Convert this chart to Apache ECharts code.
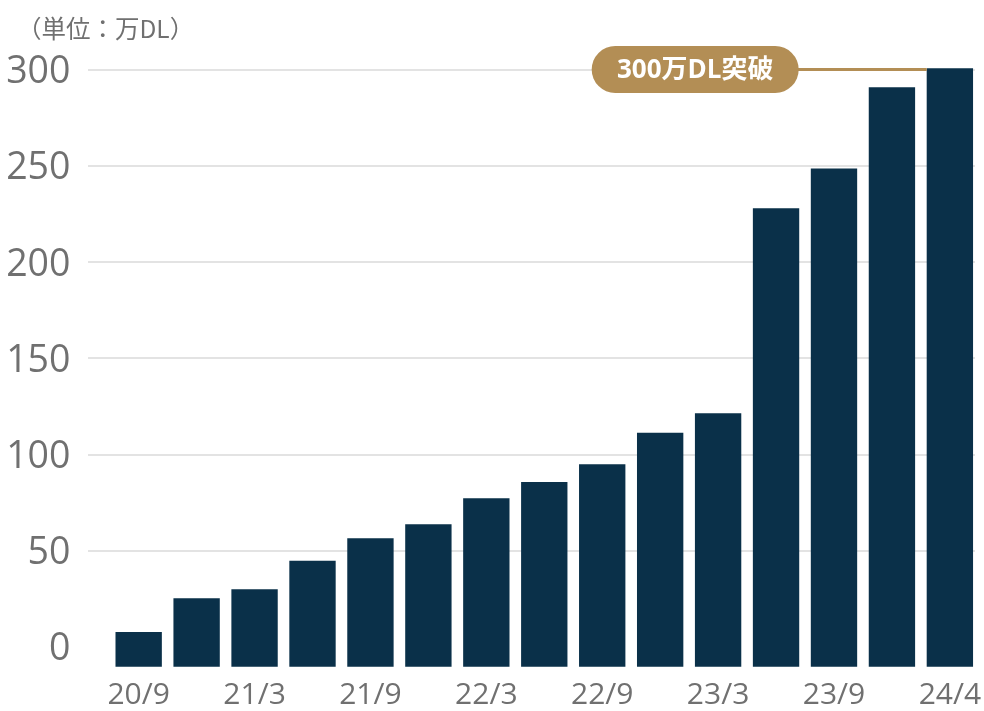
<!DOCTYPE html>
<html>
<head>
<meta charset="utf-8">
<script src="https://cdn.jsdelivr.net/npm/echarts@6/dist/echarts.min.js"></script>
<style>
html,body{margin:0;padding:0;background:#fff;}
#chart{width:984px;height:711px;}
</style>
</head>
<body>
<div id="chart"></div>
<script>
const categories = ['20/9','20/12','21/3','21/6','21/9','21/12','22/3','22/6','22/9','22/12','23/3','23/6','23/9','23/12','24/4'];
const downloads = [7.6, 25.2, 29.8, 44.7, 56.3, 63.6, 77.1, 85.6, 94.8, 111.2, 121.3, 227.9, 248.6, 290.8, 300.6];
const yTicks = [0, 50, 100, 150, 200, 250, 300];
const unitLabel = '（単位：万DL）';
const calloutText = '300万DL突破';
const calloutValue = 300;
const barFloor = -10.4;

const BAR_COLOR = '#0a3049';
const GOLD = '#b38e55';
const GREY = '#707070';
const BAR_RATIO = 0.8;

const chart = echarts.init(document.getElementById('chart'), null, {renderer: 'canvas'});

const option = {
  animation: false,
  backgroundColor: '#ffffff',
  title: {
    text: unitLabel,
    left: 12, top: 11,
    textStyle: {fontFamily: '"Noto Sans CJK JP", "Noto Sans", sans-serif', fontSize: 24.5, fontWeight: 'normal', color: GREY}
  },
  grid: [
    {left: 88, right: 9, top: 69.5, bottom: 64.3},
    {left: 109.7, right: 2, top: 69.5, bottom: 44.3}
  ],
  xAxis: [
    {gridIndex: 0, type: 'value', show: false, min: 0, max: 1},
    {
      gridIndex: 1, type: 'category', data: categories,
      axisLine: {show: false}, axisTick: {show: false},
      axisLabel: {
        interval: 1, margin: 14, fontSize: 30, color: GREY,
        fontFamily: '"Open Sans", "Noto Sans", sans-serif'
      },
      splitLine: {show: false}
    }
  ],
  yAxis: [
    {
      gridIndex: 0, type: 'value', min: yTicks[0], max: yTicks[yTicks.length - 1], interval: yTicks[1] - yTicks[0],
      axisLine: {show: false}, axisTick: {show: false},
      axisLabel: {
        margin: 17.5,
        formatter: '{v|{value}}',
        rich: {
          v: {
            fontSize: 37.5, color: GREY,
            fontFamily: '"Open Sans", "Noto Sans", sans-serif',
            padding: [6, 0, 0, 0]
          }
        }
      },
      splitLine: {show: true, showMinLine: false, lineStyle: {color: '#e3e3e3', width: 2}}
    },
    {gridIndex: 1, type: 'value', min: barFloor, max: yTicks[yTicks.length - 1], show: false, splitLine: {show: false}}
  ],
  series: [
    {
      type: 'custom',
      xAxisIndex: 1, yAxisIndex: 1,
      data: downloads.map((v, i) => [i, v]),
      renderItem: function (params, api) {
        const idx = api.value(0);
        const top = api.coord([idx, api.value(1)]);
        const bottom = api.coord([idx, barFloor]);
        const w = api.size([1, 0])[0] * BAR_RATIO;
        return {
          type: 'rect',
          shape: {x: top[0] - w / 2, y: top[1], width: w, height: bottom[1] - top[1]},
          style: {fill: BAR_COLOR}
        };
      },
      z: 3
    }
  ]
};
chart.setOption(option);

// Callout anchored to the last bar through the library's scales
const lastIdx = categories.length - 1;
const pTop = chart.convertToPixel({xAxisIndex: 1, yAxisIndex: 1}, [lastIdx, calloutValue]);
const pNext = chart.convertToPixel({xAxisIndex: 1, yAxisIndex: 1}, [lastIdx - 1, calloutValue]);
const bandW = pTop[0] - pNext[0];
const barLeft = pTop[0] - bandW * BAR_RATIO / 2;
const lineLen = 128;
const pillW = 207, pillH = 47;
const pillRight = barLeft - lineLen;
chart.setOption({
  graphic: [
    {
      type: 'line', z: 10,
      shape: {x1: pillRight - 2, y1: pTop[1], x2: barLeft, y2: pTop[1]},
      style: {stroke: GOLD, lineWidth: 3}
    },
    {
      type: 'rect', z: 11,
      shape: {x: pillRight - pillW, y: pTop[1] - pillH / 2, width: pillW, height: pillH, r: pillH / 2},
      style: {fill: GOLD}
    },
    {
      type: 'text', z: 12,
      x: pillRight - pillW / 2, y: pTop[1] + 1,
      style: {
        text: calloutText, fill: '#ffffff', align: 'center', verticalAlign: 'middle',
        font: 'bold 26px "Open Sans", "Noto Sans CJK JP", sans-serif'
      }
    }
  ]
});
</script>
</body>
</html>
